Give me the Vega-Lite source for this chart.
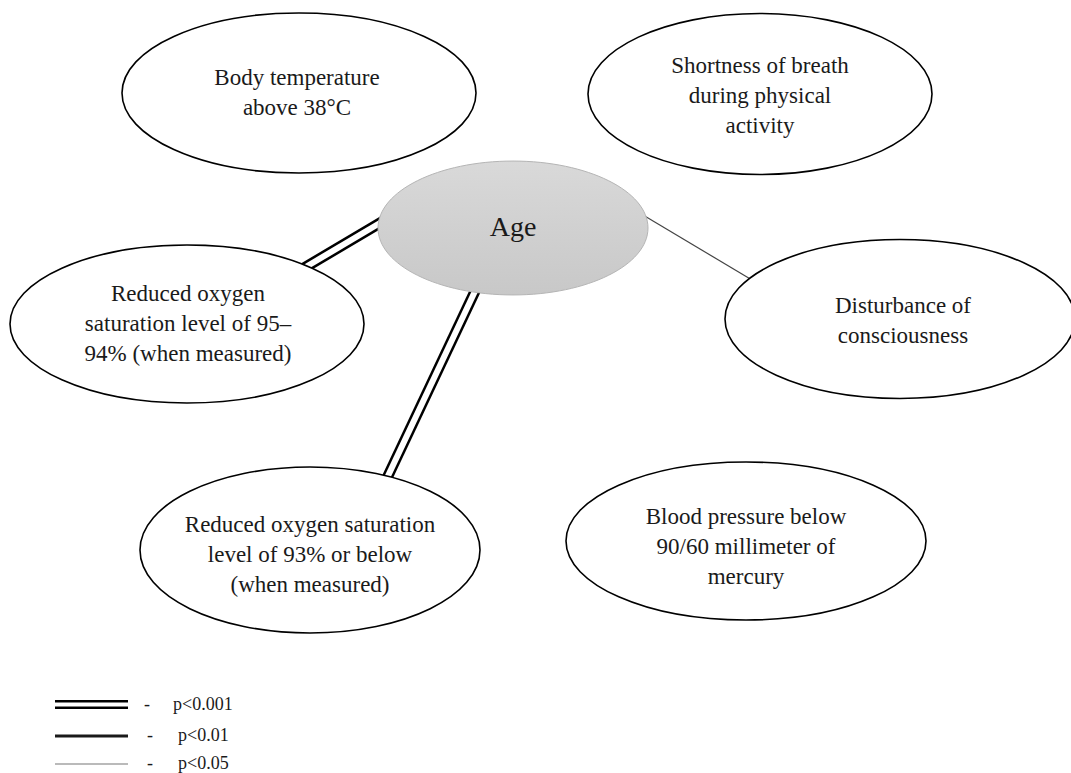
{
  "$schema": "https://vega.github.io/schema/vega-lite/v6.json",
  "width": 1071,
  "height": 773,
  "autosize": {"type": "none"},
  "padding": 0,
  "background": "white",
  "config": {"view": {"stroke": null}},
  "datasets": {
    "nodes": [
      {"node": "Body temperature above 38°C", "label": "Body temperature\nabove 38°C", "x": 299, "y": 93, "w": 354, "lx": 297, "ly": 78},
      {"node": "Shortness of breath during physical activity", "label": "Shortness of breath\nduring physical\nactivity", "x": 760, "y": 94, "w": 344, "lx": 760, "ly": 66},
      {"node": "Reduced oxygen saturation level of 95–94%", "label": "Reduced oxygen\nsaturation level of 95–\n94% (when measured)", "x": 187, "y": 324, "w": 354, "lx": 188, "ly": 294},
      {"node": "Disturbance of consciousness", "label": "Disturbance of\nconsciousness", "x": 900, "y": 319, "w": 350, "lx": 903, "ly": 306},
      {"node": "Reduced oxygen saturation level of 93% or below", "label": "Reduced oxygen saturation\nlevel of 93% or below\n(when measured)", "x": 310, "y": 550, "w": 340, "lx": 310, "ly": 525},
      {"node": "Blood pressure below 90/60 mmHg", "label": "Blood pressure below\n90/60 millimeter of\nmercury", "x": 746, "y": 541, "w": 360, "lx": 746, "ly": 517}
    ],
    "center": [
      {"node": "Age", "label": "Age", "x": 513, "y": 228, "w": 270, "lx": 513, "ly": 228}
    ],
    "edges": [
      {"from": "Age", "to": "Reduced oxygen saturation level of 95–94%", "p": "p<0.001", "x": 385, "y": 220, "x2": 304, "y2": 268},
      {"from": "Age", "to": "Reduced oxygen saturation level of 93% or below", "p": "p<0.001", "x": 477, "y": 287, "x2": 387, "y2": 478},
      {"from": "Age", "to": "Disturbance of consciousness", "p": "p<0.05", "x": 643, "y": 215, "x2": 752, "y2": 280}
    ],
    "legend": [
      {"p": "p<0.001", "x": 55, "x2": 128, "y": 704.5, "dx": 147, "tx": 173},
      {"p": "p<0.01", "x": 55, "x2": 128, "y": 736, "dx": 150, "tx": 178},
      {"p": "p<0.05", "x": 55, "x2": 128, "y": 764, "dx": 150, "tx": 178}
    ]
  },
  "encoding": {
    "x": {"field": "x", "type": "quantitative", "scale": {"domain": [0, 1071], "nice": false, "zero": false}, "axis": null},
    "y": {"field": "y", "type": "quantitative", "scale": {"domain": [0, 773], "nice": false, "zero": false, "reverse": true}, "axis": null}
  },
  "layer": [
    {
      "data": {"name": "edges"},
      "transform": [{"filter": "datum.p === 'p<0.001'"}],
      "mark": {"type": "rule", "color": "black", "strokeWidth": 11},
      "encoding": {"x2": {"field": "x2"}, "y2": {"field": "y2"}}
    },
    {
      "data": {"name": "edges"},
      "transform": [{"filter": "datum.p === 'p<0.001'"}],
      "mark": {"type": "rule", "color": "white", "strokeWidth": 6},
      "encoding": {"x2": {"field": "x2"}, "y2": {"field": "y2"}}
    },
    {
      "data": {"name": "edges"},
      "transform": [{"filter": "datum.p === 'p<0.05'"}],
      "mark": {"type": "rule", "color": "#444444", "strokeWidth": 1.2},
      "encoding": {"x2": {"field": "x2"}, "y2": {"field": "y2"}}
    },
    {
      "data": {"name": "nodes"},
      "mark": {"type": "point", "filled": true, "fill": "white", "stroke": "black", "strokeWidth": 1.6, "opacity": 1},
      "encoding": {
        "shape": {
          "field": "node", "type": "nominal", "legend": null,
          "scale": {
            "domain": ["Body temperature above 38°C", "Shortness of breath during physical activity", "Reduced oxygen saturation level of 95–94%", "Disturbance of consciousness", "Reduced oxygen saturation level of 93% or below", "Blood pressure below 90/60 mmHg"],
            "range": [
              "M-1,0C-1,-0.25 -0.5523,-0.452 0,-0.452C0.5523,-0.452 1,-0.25 1,0C1,0.25 0.5523,0.452 0,0.452C-0.5523,0.452 -1,0.25 -1,0Z",
              "M-1,0C-1,-0.258 -0.5523,-0.468 0,-0.468C0.5523,-0.468 1,-0.258 1,0C1,0.258 0.5523,0.468 0,0.468C-0.5523,0.468 -1,0.258 -1,0Z",
              "M-1,0C-1,-0.246 -0.5523,-0.446 0,-0.446C0.5523,-0.446 1,-0.246 1,0C1,0.246 0.5523,0.446 0,0.446C-0.5523,0.446 -1,0.246 -1,0Z",
              "M-1,0C-1,-0.251 -0.5523,-0.454 0,-0.454C0.5523,-0.454 1,-0.251 1,0C1,0.251 0.5523,0.454 0,0.454C-0.5523,0.454 -1,0.251 -1,0Z",
              "M-1,0C-1,-0.27 -0.5523,-0.488 0,-0.488C0.5523,-0.488 1,-0.27 1,0C1,0.27 0.5523,0.488 0,0.488C-0.5523,0.488 -1,0.27 -1,0Z",
              "M-1,0C-1,-0.242 -0.5523,-0.439 0,-0.439C0.5523,-0.439 1,-0.242 1,0C1,0.242 0.5523,0.439 0,0.439C-0.5523,0.439 -1,0.242 -1,0Z"
            ]
          }
        },
        "size": {"field": "w", "type": "quantitative", "legend": null, "scale": {"type": "pow", "exponent": 2, "domain": [0, 1000], "range": [0, 1000000]}}
      }
    },
    {
      "data": {"name": "center"},
      "mark": {
        "type": "point", "filled": true, "opacity": 1, "stroke": "#b5b5b5", "strokeWidth": 1,
        "fill": {"gradient": "linear", "x1": 0, "y1": 0, "x2": 0, "y2": 1, "stops": [{"offset": 0, "color": "#d9d9d9"}, {"offset": 1, "color": "#c8c8c8"}]},
        "shape": "M-1,0C-1,-0.274 -0.5523,-0.496 0,-0.496C0.5523,-0.496 1,-0.274 1,0C1,0.274 0.5523,0.496 0,0.496C-0.5523,0.496 -1,0.274 -1,0Z"
      },
      "encoding": {
        "size": {"field": "w", "type": "quantitative", "legend": null, "scale": {"type": "pow", "exponent": 2, "domain": [0, 1000], "range": [0, 1000000]}}
      }
    },
    {
      "data": {"name": "nodes"},
      "mark": {"type": "text", "font": "Liberation Serif", "fontSize": 23, "lineHeight": 30, "lineBreak": "\n", "align": "center", "baseline": "middle", "color": "#1a1a1a"},
      "encoding": {
        "x": {"field": "lx", "type": "quantitative"},
        "y": {"field": "ly", "type": "quantitative"},
        "text": {"field": "label"}
      }
    },
    {
      "data": {"name": "center"},
      "mark": {"type": "text", "font": "Liberation Serif", "fontSize": 28, "align": "center", "baseline": "middle", "color": "#1a1a1a"},
      "encoding": {
        "x": {"field": "lx", "type": "quantitative"},
        "y": {"field": "ly", "type": "quantitative"},
        "text": {"field": "label"}
      }
    },
    {
      "data": {"name": "legend"},
      "transform": [{"filter": "datum.p === 'p<0.001'"}],
      "mark": {"type": "rule", "color": "black", "strokeWidth": 9},
      "encoding": {"x2": {"field": "x2"}, "y2": {"field": "y"}}
    },
    {
      "data": {"name": "legend"},
      "transform": [{"filter": "datum.p === 'p<0.001'"}],
      "mark": {"type": "rule", "color": "white", "strokeWidth": 4},
      "encoding": {"x2": {"field": "x2"}, "y2": {"field": "y"}}
    },
    {
      "data": {"name": "legend"},
      "transform": [{"filter": "datum.p === 'p<0.01'"}],
      "mark": {"type": "rule", "color": "#1a1a1a", "strokeWidth": 3},
      "encoding": {"x2": {"field": "x2"}, "y2": {"field": "y"}}
    },
    {
      "data": {"name": "legend"},
      "transform": [{"filter": "datum.p === 'p<0.05'"}],
      "mark": {"type": "rule", "color": "#777777", "strokeWidth": 1.2},
      "encoding": {"x2": {"field": "x2"}, "y2": {"field": "y"}}
    },
    {
      "data": {"name": "legend"},
      "mark": {"type": "text", "font": "Liberation Serif", "fontSize": 18, "align": "center", "baseline": "middle", "color": "#1a1a1a", "text": "-"},
      "encoding": {"x": {"field": "dx", "type": "quantitative"}}
    },
    {
      "data": {"name": "legend"},
      "mark": {"type": "text", "font": "Liberation Serif", "fontSize": 18, "align": "left", "baseline": "middle", "color": "#1a1a1a"},
      "encoding": {"x": {"field": "tx", "type": "quantitative"}, "text": {"field": "p"}}
    }
  ]
}
